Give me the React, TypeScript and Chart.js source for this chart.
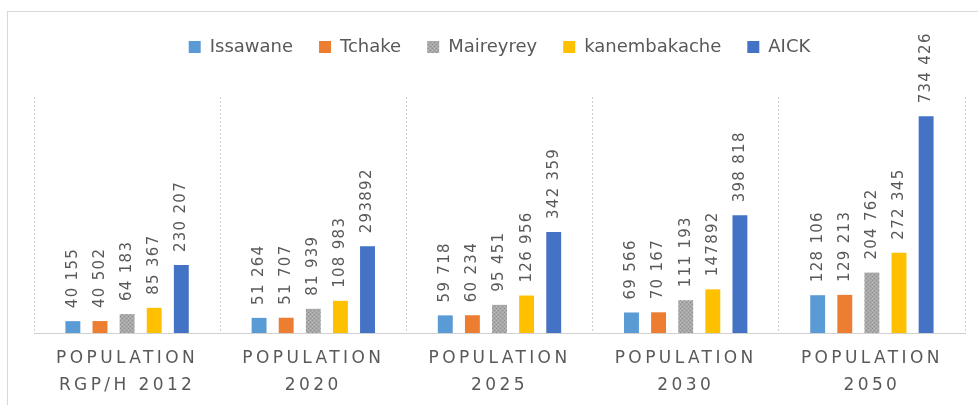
import { useEffect, useRef } from "react";
import { Chart, registerables } from "chart.js";

Chart.register(...registerables);

const categories: string[][] = [
  ["POPULATION", "RGP/H 2012"],
  ["POPULATION", "2020"],
  ["POPULATION", "2025"],
  ["POPULATION", "2030"],
  ["POPULATION", "2050"],
];
const seriesNames = ["Issawane", "Tchake", "Maireyrey", "kanembakache", "AICK"];

const issawane = [40155, 51264, 59718, 69566, 128106];
const tchake = [40502, 51707, 60234, 70167, 129213];
const maireyrey = [64183, 81939, 95451, 111193, 204762];
const kanembakache = [85367, 108983, 126956, 147892, 272345];
const aick = [230207, 293892, 342359, 398818, 734426];

const issawaneLabels = ["40 155", "51 264", "59 718", "69 566", "128 106"];
const tchakeLabels = ["40 502", "51 707", "60 234", "70 167", "129 213"];
const maireyreyLabels = ["64 183", "81 939", "95 451", "111 193", "204 762"];
const kanembakacheLabels = ["85 367", "108 983", "126 956", "147892", "272 345"];
const aickLabels = ["230 207", "293892", "342 359", "398 818", "734 426"];

const colors = ["#5B9BD5", "#ED7D31", "#A5A5A5", "#FFC000", "#4472C4"];
const TEXT = "#595959";
const FONT = "'DejaVu Sans', sans-serif";

function grayPattern(ctx: CanvasRenderingContext2D) {
  const c = document.createElement("canvas");
  c.width = 4;
  c.height = 4;
  const g = c.getContext("2d")!;
  g.fillStyle = "#a8a8a8";
  g.fillRect(0, 0, 4, 4);
  g.fillStyle = "#8f8f8f";
  g.fillRect(0, 0, 1, 1);
  g.fillRect(2, 2, 1, 1);
  g.fillStyle = "#bdbdbd";
  g.fillRect(2, 0, 1, 1);
  g.fillRect(0, 2, 1, 1);
  return ctx.createPattern(c, "repeat") || "#A5A5A5";
}

export default function App() {
  const ref = useRef<HTMLCanvasElement | null>(null);

  useEffect(() => {
    const canvas = ref.current!;
    const ctx = canvas.getContext("2d")!;
    const values = [issawane, tchake, maireyrey, kanembakache, aick];
    const labelSets = [issawaneLabels, tchakeLabels, maireyreyLabels, kanembakacheLabels, aickLabels];

    const frame = {
      id: "frame",
      beforeDraw(chart: any) {
        const c = chart.ctx;
        c.save();
        c.fillStyle = "#ffffff";
        c.fillRect(0, 0, chart.width, chart.height);
        c.strokeStyle = "#d9d9d9";
        c.lineWidth = 1;
        c.strokeRect(7.5, 11.5, 1100, 600);
        c.restore();
      },
    };

    const legendHeight = {
      id: "legendHeight",
      beforeLayout(chart: any) {
        const lg = chart.legend;
        if (lg && !lg._patchedFit) {
          const orig = lg.fit;
          lg.fit = function () {
            orig.call(this);
            this.height = 85;
          };
          lg._patchedFit = true;
        }
      },
    };

    const tickSpacing = {
      id: "tickSpacing",
      afterLayout(chart: any) {
        const s = chart.scales.x;
        if (s && !s._patchedLabels) {
          const orig = s.drawLabels.bind(s);
          s.drawLabels = (area: any) => {
            const c = chart.ctx;
            c.save();
            (c as any).letterSpacing = "3.4px";
            orig(area);
            c.restore();
          };
          s._patchedLabels = true;
        }
      },
    };

    const valueLabels = {
      id: "valueLabels",
      afterDatasetsDraw(chart: any) {
        const c = chart.ctx;
        chart.data.datasets.forEach((_ds: any, di: number) => {
          const meta = chart.getDatasetMeta(di);
          meta.data.forEach((el: any, i: number) => {
            const text = labelSets[di][i];
            c.save();
            c.translate(el.x, el.y - 13);
            c.rotate(-Math.PI / 2);
            c.font = `15px ${FONT}`;
            (c as any).letterSpacing = "1.3px";
            c.fillStyle = TEXT;
            c.textAlign = "left";
            c.textBaseline = "middle";
            c.fillText(text, 0, 0);
            c.restore();
          });
        });
      },
    };

    const chart = new Chart(canvas, {
      type: "bar",
      data: {
        labels: categories,
        datasets: seriesNames.map((name, i) => ({
          label: name,
          data: values[i],
          backgroundColor: i === 2 ? grayPattern(ctx) : colors[i],
          borderWidth: 0,
          categoryPercentage: 0.728,
          barPercentage: 0.55,
        })),
      },
      options: {
        responsive: false,
        animation: false,
        layout: { padding: { top: 12, left: 34, right: 13, bottom: 0 } },
        plugins: {
          legend: {
            position: "top",
            align: "center",
            labels: {
              boxWidth: 12,
              boxHeight: 12,
              padding: 26,
              color: TEXT,
              font: { family: FONT, size: 18 },
            },
          },
          tooltip: { enabled: false },
        },
        scales: {
          x: {
            offset: true,
            grid: { display: true, color: "#cfcfcf", lineWidth: 1, drawTicks: false, offset: true },
            border: { display: true, color: "#d0d0d0", dash: [2, 2] },
            ticks: {
              color: TEXT,
              padding: 12,
              autoSkip: false,
              maxRotation: 0,
              font: { family: FONT, size: 17, lineHeight: 1.6 },
            },
            afterFit: (s: any) => {
              s.height = 72;
            },
          },
          y: {
            display: false,
            min: 0,
            max: 800000,
          },
        },
      },
      plugins: [frame, legendHeight, tickSpacing, valueLabels],
    });

    return () => chart.destroy();
  }, []);

  return (
    <div style={{ position: "fixed", left: 0, top: 0, width: 978, height: 405, background: "#fff" }}>
      <canvas ref={ref} width={978} height={405} style={{ width: 978, height: 405, display: "block" }} />
    </div>
  );
}
